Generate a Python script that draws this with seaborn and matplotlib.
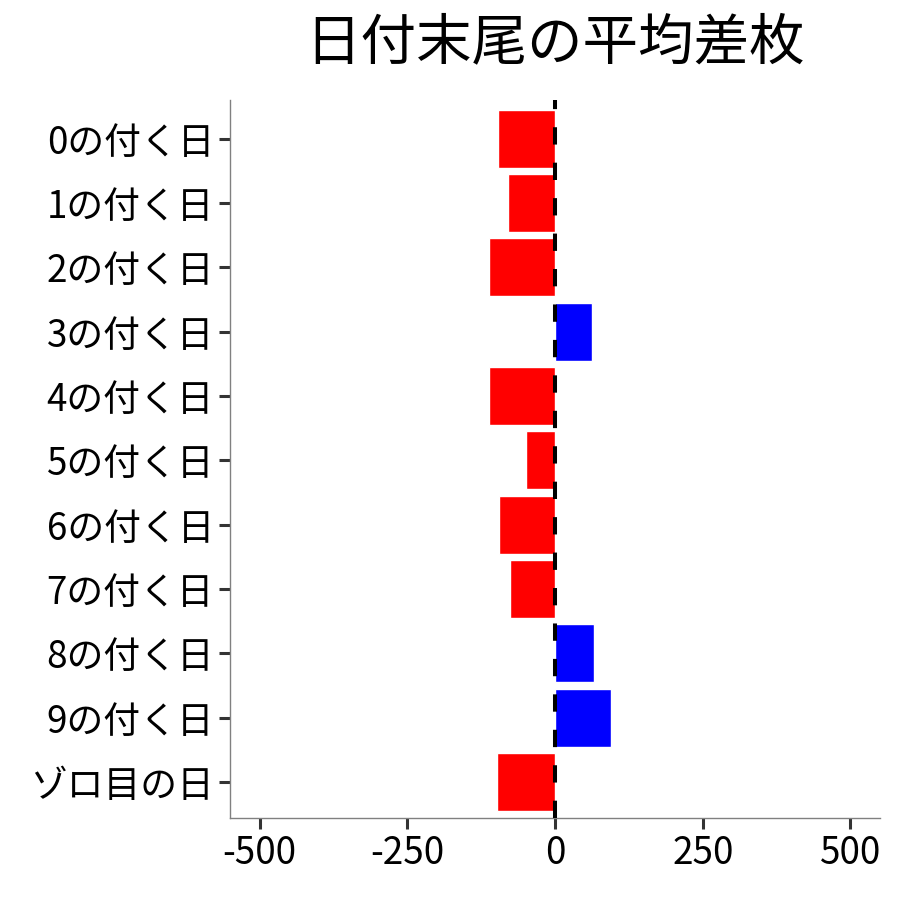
import matplotlib
matplotlib.use("Agg")
import matplotlib.pyplot as plt
import seaborn as sns
import pandas as pd

# data
days = ["0の付く日", "1の付く日", "2の付く日", "3の付く日", "4の付く日",
        "5の付く日", "6の付く日", "7の付く日", "8の付く日", "9の付く日", "ゾロ目の日"]
avg_diff = [-96, -79, -111, 62, -111, -49, -95, -76, 66, 94, -98]

sns.set_theme(style="white")
plt.rcParams["font.family"] = ["Noto Sans CJK JP", "DejaVu Sans"]

df = pd.DataFrame({"day": days, "diff": avg_diff})
df["sign"] = ["plus" if v > 0 else "minus" for v in df["diff"]]

fig = plt.figure(figsize=(9, 9), dpi=100)
ax = fig.add_axes([0.2556, 0.0911, 0.7222, 0.7978])

sns.barplot(data=df, x="diff", y="day", hue="sign", order=days,
            palette={"plus": "#0000ff", "minus": "#ff0000"},
            width=0.9, saturation=1, legend=False, ax=ax)
ax.axvline(0, color="black", lw=2.9, ls=(0, (4.3, 4.5)), zorder=5)

ax.set_xlim(-550, 550)
ax.set_ylim(10.56, -0.6)
ax.set_xticks([-500, -250, 0, 250, 500])
ax.set_xticklabels(["-500", "-250", "0", "250", "500"])
ax.set_xlabel("")
ax.set_ylabel("")

for side in ["top", "right"]:
    ax.spines[side].set_visible(False)
for side in ["left", "bottom"]:
    ax.spines[side].set_color("#808080")
    ax.spines[side].set_linewidth(1)

ax.tick_params(axis="both", which="major", bottom=True, left=True,
               length=8, width=2.2, color="#333333", labelsize=26.5,
               labelcolor="black", pad=3.5)

fig.text(0.6167, 0.952, "日付末尾の平均差枚", ha="center", va="center",
         fontsize=40, color="black")

fig.savefig("out.png", dpi=100)
